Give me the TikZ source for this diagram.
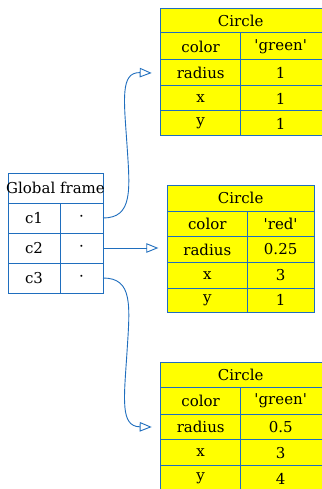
\documentclass[tikz,border=0pt]{standalone}
\usepackage{fontspec}
\setmainfont{DejaVu Serif}[Ligatures=TeXOff]
\usetikzlibrary{arrows.meta,calc}
\definecolor{bl}{RGB}{31,110,190}
\definecolor{yel}{RGB}{255,255,0}
\tikzset{
  cellbase/.style={draw=bl, line width=1pt, inner sep=0pt, outer sep=0pt, anchor=north west, font=\fontsize{15}{17}\selectfont},
  ycell/.style={cellbase, fill=yel},
  wcell/.style={cellbase, fill=white},
  txt/.style={inner sep=0pt, font=\fontsize{15}{17}\selectfont},
  ptr/.style={draw=bl, line width=0.9pt, -{Triangle[open, length=12pt, width=9.5pt]}},
}
\newcommand{\mkcell}[7]{\node[#7, minimum width=#4pt, minimum height=#5pt] (#1) at (#2,#3) {#6};}
% wide right cell (runs past the page edge), text centred on an 80pt column
\newcommand{\mkwide}[5]{\node[ycell, minimum width=100pt, minimum height=#4pt] (#1) at (240.7,#3) {};
  \node[txt] (#1t) at ($(#1.west)+(40,0)$) {#5};}
\begin{document}
\begin{tikzpicture}[x=1pt,y=-1pt]
\useasboundingbox[fill=white] (0,0) rectangle (321,489);
% Global frame
\mkcell{gh}{8}{173}{95}{30}{}{wcell}
\node[txt] (ght) at (gh.center) {Global frame};
\mkcell{gc1}{8}{203}{52}{30}{c1}{wcell}
\mkcell{gv1}{60}{203}{43}{30}{·}{wcell}
\mkcell{gc2}{8}{233}{52}{30}{c2}{wcell}
\mkcell{gv2}{60}{233}{43}{30}{·}{wcell}
\mkcell{gc3}{8}{263}{52}{30}{c3}{wcell}
\mkcell{gv3}{60}{263}{43}{30}{·}{wcell}
% Top table
\node[ycell, minimum width=180pt, minimum height=24.3pt] (ah) at (160.7,8.7) {};
\node[txt] (aht) at ($(ah.west)+(80,0)$) {Circle};
\mkcell{ack}{160.7}{33}{80}{27}{color}{ycell}
\mkwide{acv}{}{33}{27}{'green'}
\mkcell{ark}{160.7}{60}{80}{26}{radius}{ycell}
\mkwide{arv}{}{60}{26}{1}
\mkcell{axk}{160.7}{86}{80}{25}{x}{ycell}
\mkwide{axv}{}{86}{25}{1}
\mkcell{ayk}{160.7}{111}{80}{25}{y}{ycell}
\mkwide{ayv}{}{111}{25}{1}
% Middle table
\mkcell{bh}{167.3}{185.7}{146.7}{25.3}{Circle}{ycell}
\mkcell{bck}{167.3}{211}{80}{25.7}{color}{ycell}
\mkcell{bcv}{247.3}{211}{66.7}{25.7}{'red'}{ycell}
\mkcell{brk}{167.3}{236.7}{80}{25.6}{radius}{ycell}
\mkcell{brv}{247.3}{236.7}{66.7}{25.6}{0.25}{ycell}
\mkcell{bxk}{167.3}{262.3}{80}{26}{x}{ycell}
\mkcell{bxv}{247.3}{262.3}{66.7}{26}{3}{ycell}
\mkcell{byk}{167.3}{288.3}{80}{24}{y}{ycell}
\mkcell{byv}{247.3}{288.3}{66.7}{24}{1}{ycell}
% Bottom table
\node[ycell, minimum width=180pt, minimum height=25pt] (ch) at (160.7,362.3) {};
\node[txt] (cht) at ($(ch.west)+(80,0)$) {Circle};
\mkcell{cck}{160.7}{387.3}{80}{27}{color}{ycell}
\mkwide{ccv}{}{387.3}{27}{'green'}
\mkcell{crk}{160.7}{414.3}{80}{25.4}{radius}{ycell}
\mkwide{crv}{}{414.3}{25.4}{0.5}
\mkcell{cxk}{160.7}{439.7}{80}{26}{x}{ycell}
\mkwide{cxv}{}{439.7}{26}{3}
\mkcell{cyk}{160.7}{465.7}{80}{26}{y}{ycell}
\mkwide{cyv}{}{465.7}{26}{4}
% arrow ends
\coordinate (ea) at ($(ark.west)+(-9,0)$);
\coordinate (eb) at ($(gv2.east -| brk.west)+(-9,0)$);
\coordinate (ec) at ($(crk.west)+(-9,0)$);
% connectors
\draw[ptr] (gv1.east) .. controls ($(gv1.east)+(30,0)$) and (130,190) .. (127,145)
  .. controls (124,100) and (120,72) .. (ea);
\draw[ptr] (gv2.east) -- (eb);
\draw[ptr] (gv3.east) .. controls ($(gv3.east)+(30,0)$) and (130,305) .. (127,352)
  .. controls (124,399) and (120,426.5) .. (ec);
\end{tikzpicture}
\end{document}
